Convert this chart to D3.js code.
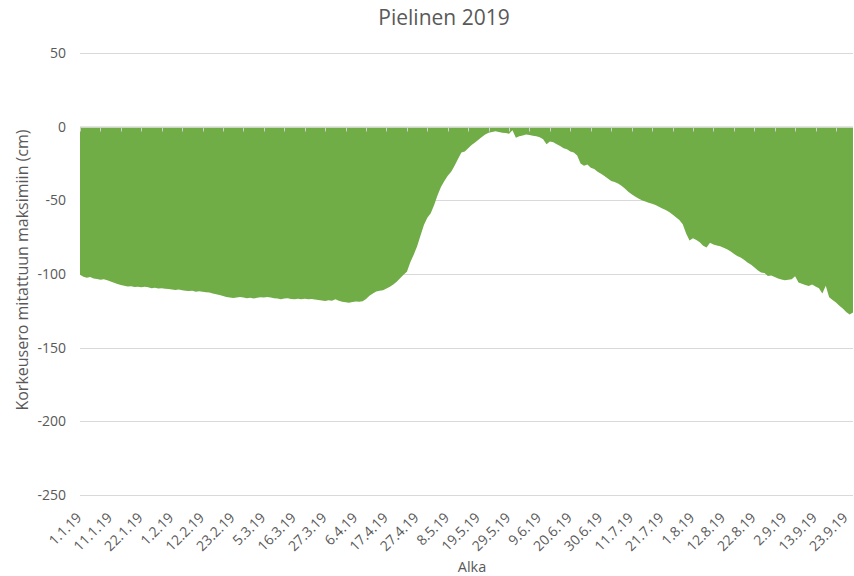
<!DOCTYPE html>
<html>
<head>
<meta charset="utf-8">
<script src="https://cdn.jsdelivr.net/npm/d3@7"></script>
<style>
  body { margin: 0; background: #fff; }
  text { font-family: "Open Sans", sans-serif; fill: #595959; }
</style>
</head>
<body>
<svg id="chart" width="854" height="576"></svg>
<script>
// date labels shown on the category axis (one every 9 readings)
var dateLabels = ["1.1.19", "11.1.19", "22.1.19", "1.2.19", "12.2.19", "23.2.19", "5.3.19",
  "16.3.19", "27.3.19", "6.4.19", "17.4.19", "27.4.19", "8.5.19", "19.5.19", "29.5.19",
  "9.6.19", "20.6.19", "30.6.19", "11.7.19", "21.7.19", "1.8.19", "12.8.19", "22.8.19",
  "2.9.19", "13.9.19", "23.9.19"];

var levels = [
  -100.5, -101.8, -102.6, -102.1, -103.0, -103.4, -103.9, -103.5, -104.2, -105.1,
  -106.0, -106.8, -107.5, -108.0, -108.5, -108.3, -108.9, -108.6, -109.0, -108.7,
  -109.0, -109.6, -109.3, -109.8, -109.6, -110.0, -110.2, -110.5, -110.9, -110.6,
  -111.0, -111.3, -111.6, -111.4, -112.0, -111.7, -112.1, -112.4, -112.6, -113.2,
  -113.8, -114.3, -115.0, -115.6, -115.9, -116.3, -116.0, -115.6, -116.0, -116.4,
  -116.2, -116.6, -116.1, -115.7, -116.0, -115.6, -116.0, -116.4, -116.7, -117.1,
  -116.7, -116.4, -116.9, -117.2, -116.8, -117.1, -116.8, -117.2, -116.9, -117.3,
  -117.6, -118.0, -118.3, -117.9, -118.2, -117.2, -118.1, -118.8, -119.2, -119.5,
  -119.0, -118.6, -118.9, -118.5, -117.0, -114.7, -113.2, -111.8, -111.4, -111.0,
  -109.8, -108.6, -107.2, -105.2, -102.8, -100.5, -98.4, -92.0, -87.0, -81.2,
  -73.8, -66.8, -61.8, -58.8, -53.2, -46.5, -40.9, -36.8, -33.3, -30.6,
  -26.6, -22.0, -17.6, -16.9, -14.6, -12.5, -10.7, -8.8, -7.0, -5.3,
  -4.2, -3.6, -3.1, -3.6, -4.1, -4.3, -4.8, -2.5, -7.5, -6.5,
  -6.0, -5.4, -5.6, -6.1, -6.5, -7.2, -8.5, -12.0, -10.0, -10.6,
  -12.0, -13.2, -14.6, -15.4, -16.8, -17.5, -19.5, -25.0, -26.5, -25.6,
  -27.8, -28.8, -30.6, -32.0, -33.5, -35.2, -36.9, -37.6, -38.6, -40.1,
  -42.0, -44.1, -45.8, -47.4, -48.7, -50.0, -50.8, -51.6, -52.3, -53.2,
  -54.3, -55.5, -56.6, -58.0, -59.6, -61.4, -63.3, -66.2, -72.5, -77.2,
  -75.8, -76.9, -78.4, -80.9, -82.0, -78.8, -80.0, -80.6, -81.2, -82.2,
  -83.2, -84.6, -86.2, -87.8, -88.8, -90.3, -92.2, -93.6, -95.5, -97.4,
  -99.0, -99.4, -101.3, -101.0, -102.1, -103.0, -103.8, -104.2, -103.9, -103.6,
  -101.5, -105.8, -106.7, -107.5, -108.2, -107.2, -108.5, -109.6, -113.2, -108.0,
  -115.8, -117.6, -119.3, -121.6, -123.4, -125.8, -127.5, -126.2
];

var yTicks = [50, 0, -50, -100, -150, -200, -250];
var labelEvery = 9, tickEvery = 6;

var svg = d3.select("#chart");
var plotLeft = 80, plotRight = 853, plotTop = 53, plotBottom = 495;

var x = d3.scaleLinear().domain([0, levels.length - 1]).range([plotLeft, plotRight]);
var y = d3.scaleLinear().domain([-250, 50]).range([plotBottom, plotTop]);

// gridlines
svg.append("g").attr("class", "grid")
  .selectAll("line")
  .data(yTicks)
  .enter()
  .append("line")
    .attr("x1", plotLeft).attr("x2", plotRight)
    .attr("y1", d => Math.round(y(d)) + 0.5)
    .attr("y2", d => Math.round(y(d)) + 0.5)
    .style("stroke", "#d9d9d9");

// area between zero and the level
var area = d3.area()
  .x((d, i) => x(i))
  .y0(y(0))
  .y1(d => y(d));

svg.append("path")
  .datum(levels)
  .attr("d", area)
  .style("fill", "#70ad47");

// category axis crossing at zero
var zeroY = Math.round(y(0)) + 0.5;
svg.append("line")
  .attr("x1", plotLeft).attr("x2", plotRight)
  .attr("y1", zeroY).attr("y2", zeroY)
  .style("stroke", "#d0d0d0");

var tickIdx = d3.range(0, levels.length, tickEvery);
svg.append("g").attr("class", "ticks")
  .selectAll("line")
  .data(tickIdx)
  .enter()
  .append("line")
    .attr("x1", d => Math.round(x(d)) + 0.5)
    .attr("x2", d => Math.round(x(d)) + 0.5)
    .attr("y1", zeroY).attr("y2", zeroY + 4)
    .style("stroke", "#d0d0d0");

// y labels
svg.append("g").attr("class", "ylabels")
  .selectAll("text")
  .data(yTicks)
  .enter()
  .append("text")
    .attr("x", 66)
    .attr("y", d => y(d))
    .attr("dy", "0.35em")
    .attr("text-anchor", "end")
    .style("font-size", "14px")
    .text(d => d);

// x labels, rotated
svg.append("g").attr("class", "xlabels")
  .selectAll("text")
  .data(dateLabels)
  .enter()
  .append("text")
    .attr("transform", (d, i) => "translate(" + (x(i * labelEvery) - 1) + ",515) rotate(-45)")
    .attr("dy", "0.35em")
    .attr("text-anchor", "end")
    .style("font-size", "14px")
    .text(d => d);

// titles
svg.append("text")
  .attr("x", 444).attr("y", 25)
  .attr("text-anchor", "middle")
  .style("font-size", "21px")
  .text("Pielinen 2019");

svg.append("text")
  .attr("x", 472).attr("y", 572)
  .attr("text-anchor", "middle")
  .style("font-size", "14.5px")
  .text("Alka");

svg.append("text")
  .attr("transform", "translate(28,270) rotate(-90)")
  .attr("text-anchor", "middle")
  .style("font-size", "16px")
  .text("Korkeusero mitattuun maksimiin (cm)");
</script>
</body>
</html>
